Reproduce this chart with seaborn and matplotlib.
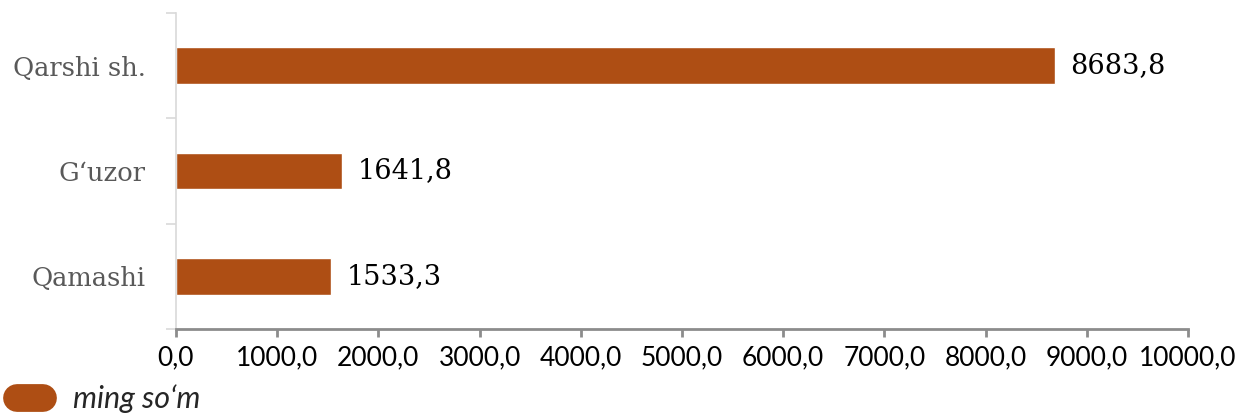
import matplotlib
matplotlib.use("Agg")
import matplotlib.pyplot as plt
from matplotlib.lines import Line2D
import seaborn as sns
import pandas as pd

districts = ["Qarshi sh.", "G\u2018uzor", "Qamashi"]
values = [8683.8, 1641.8, 1533.3]
unit_label = "ming so\u2018m"
bar_color = "#AE4E14"

df = pd.DataFrame({"district": districts, "value": values})

sns.set_theme(style="white")
plt.rcParams["font.family"] = ["Lato", "DejaVu Sans"]

fig = plt.figure(figsize=(12.39, 4.13), dpi=100)
ax = fig.add_axes([176 / 1239, 1 - 329 / 413, (1188 - 176) / 1239, 316 / 413])

sns.barplot(data=df, x="value", y="district", color=bar_color, width=0.345,
            saturation=1, ax=ax)

ax.set_xlim(0, 10000)
ax.set_ylim(2.5, -0.5)
ax.set_xticks(range(0, 10001, 1000))
ax.set_xticklabels([f"{v:.1f}".replace(".", ",") for v in range(0, 10001, 1000)],
                   fontsize=19, color="black")
ax.set_xlabel("")
ax.set_ylabel("")

# category labels in grey serif, ticks at band edges
ax.set_yticks(range(len(districts)))
ax.set_yticklabels(districts, family="DejaVu Serif", fontsize=18.5, color="#595959")
ax.set_yticks([-0.5, 0.5, 1.5, 2.5], minor=True)
ax.tick_params(axis="y", which="major", length=0, pad=22)
ax.tick_params(axis="y", which="minor", length=7, width=1.2, color="#D9D9D9", left=True)
ax.tick_params(axis="x", which="major", length=6, width=2, color="#8C8C8C",
               bottom=True, pad=6)

for s in ["top", "right"]:
    ax.spines[s].set_visible(False)
ax.spines["left"].set_color("#D9D9D9")
ax.spines["left"].set_linewidth(1.2)
ax.spines["bottom"].set_color("#8C8C8C")
ax.spines["bottom"].set_linewidth(2)

labels = [f"{v:.1f}".replace(".", ",") for v in values]
ax.bar_label(ax.containers[0], labels=labels, padding=11,
             family="DejaVu Serif", fontsize=19.5, color="black")

handle = Line2D([0], [0], color=bar_color, lw=20, solid_capstyle="round")
fig.legend([handle], [unit_label], loc="center left",
           bbox_to_anchor=(0.0135, 1 - 399 / 413),
           frameon=False, borderpad=0, borderaxespad=0, handlelength=0.85,
           handletextpad=1.0,
           prop={"family": "Lato", "style": "italic", "size": 22})

fig.savefig("out.png", dpi=100)
